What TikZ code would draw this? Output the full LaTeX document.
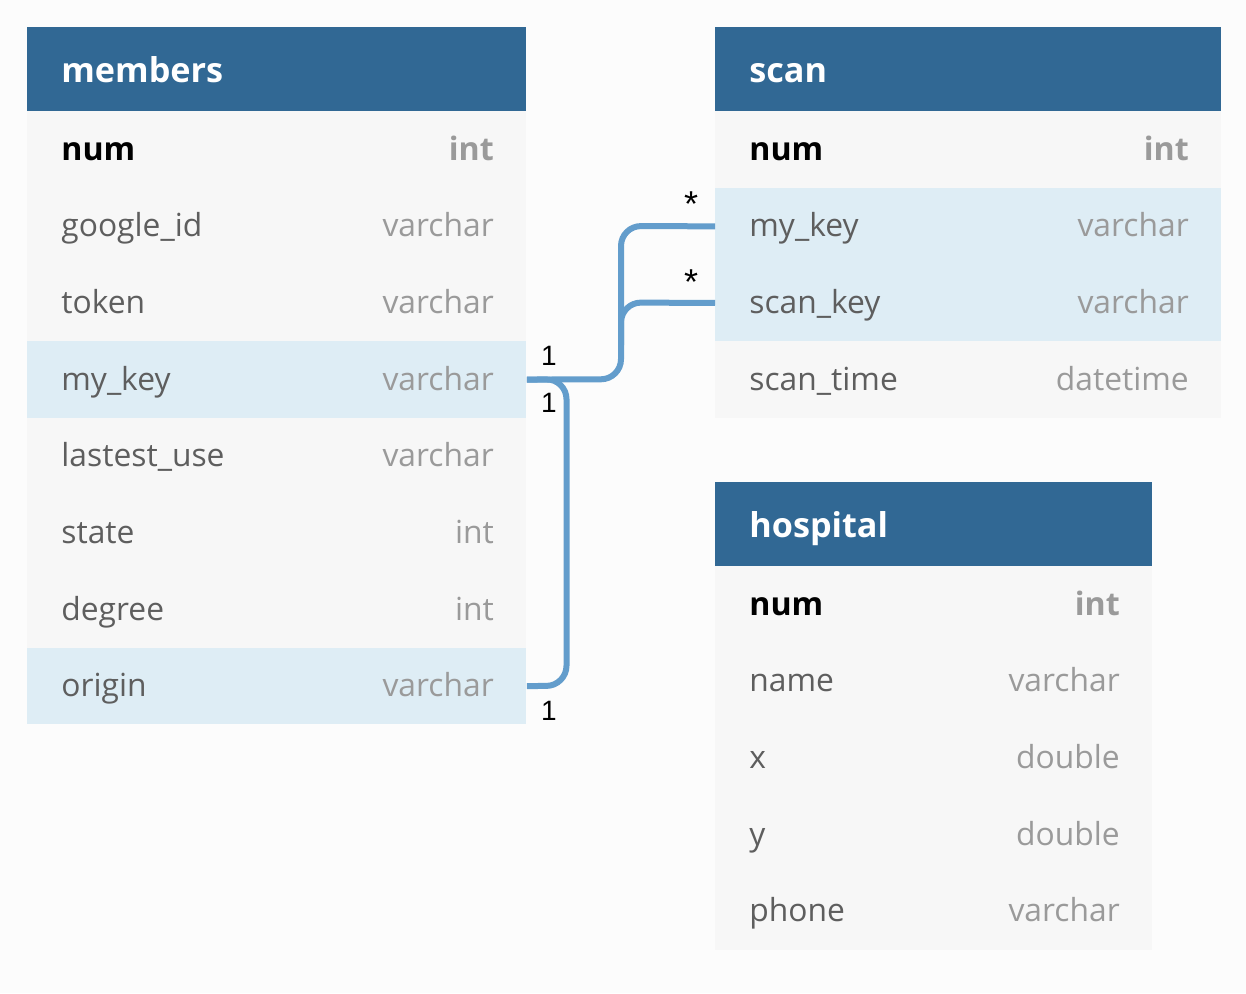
\documentclass[tikz,border=0pt]{standalone}
\usepackage{fontspec}
\setmainfont{Open Sans}
\newfontfamily\cardfont{Liberation Sans}
\definecolor{bgc}{HTML}{FCFCFC}
\definecolor{headc}{HTML}{316894}
\definecolor{rowc}{HTML}{F7F7F7}
\definecolor{hic}{HTML}{DEEDF5}
\definecolor{linkc}{HTML}{639DCC}
\definecolor{fieldc}{HTML}{5E5E5E}
\definecolor{typec}{HTML}{9A9A9A}
\newcommand{\erow}[8]{%
  \node[cell, fill=#5, minimum width=#4] (#1) at (#2,#3) {};
  \node[field#8] (#1-f) at ([xshift=17pt,yshift=-5.3pt]#1.west) {#6};
  \node[type#8] (#1-t) at ([xshift=-16.3pt,yshift=-5.3pt]#1.east) {#7};
}
\newcommand{\ehead}[4]{%
  \node[headbox, minimum width=#4] (#1) at (#2,#3) {};
  \node[headtxt] (#1-txt) at ([xshift=17pt,yshift=-6.3pt]#1.west) {#1};
}
\begin{document}
\begin{tikzpicture}[x=0.5pt,y=-0.5pt,
  cell/.style={rectangle, anchor=north west, inner sep=0pt, minimum height=38.31pt, draw=none},
  headbox/.style={rectangle, anchor=north west, inner sep=0pt, minimum height=42pt, fill=headc, draw=none},
  headtxt/.style={anchor=base west, inner sep=0pt, text=white, font=\fontsize{17.1}{20}\selectfont\bfseries},
  fieldkey/.style={anchor=base west, inner sep=0pt, text=black, font=\fontsize{16.1}{19}\selectfont\bfseries},
  typekey/.style={anchor=base east, inner sep=0pt, text=typec, font=\fontsize{16.1}{19}\selectfont\bfseries},
  fieldplain/.style={anchor=base west, inner sep=0pt, text=fieldc, font=\fontsize{15.9}{19}\selectfont},
  typeplain/.style={anchor=base east, inner sep=0pt, text=typec, font=\fontsize{15.9}{19}\selectfont},
  link/.style={draw=linkc, line width=3pt, rounded corners=10pt},
  card/.style={inner sep=0pt, text=black, font=\fontsize{14}{16}\selectfont\cardfont},
  star/.style={inner sep=0pt, text=black, font=\fontsize{18}{20}\selectfont\cardfont}
]
\useasboundingbox[fill=bgc] (0,0) rectangle (1246,993);
% members
\ehead{members}{27}{27}{249.5pt}
\erow{m-num}{27}{111}{249.5pt}{rowc}{num}{int}{key}
\erow{m-google}{27}{187.625}{249.5pt}{rowc}{google\_id}{varchar}{plain}
\erow{m-token}{27}{264.25}{249.5pt}{rowc}{token}{varchar}{plain}
\erow{m-mykey}{27}{340.875}{249.5pt}{hic}{my\_key}{varchar}{plain}
\erow{m-lastest}{27}{417.5}{249.5pt}{rowc}{lastest\_use}{varchar}{plain}
\erow{m-state}{27}{494.125}{249.5pt}{rowc}{state}{int}{plain}
\erow{m-degree}{27}{570.75}{249.5pt}{rowc}{degree}{int}{plain}
\erow{m-origin}{27}{647.375}{249.5pt}{hic}{origin}{varchar}{plain}
% scan
\ehead{scan}{715}{27}{253pt}
\erow{s-num}{715}{111}{253pt}{rowc}{num}{int}{key}
\erow{s-mykey}{715}{187.625}{253pt}{hic}{my\_key}{varchar}{plain}
\erow{s-scankey}{715}{264.25}{253pt}{hic}{scan\_key}{varchar}{plain}
\erow{s-time}{715}{340.875}{253pt}{rowc}{scan\_time}{datetime}{plain}
% hospital
\ehead{hospital}{715}{482}{218.5pt}
\erow{h-num}{715}{566}{218.5pt}{rowc}{num}{int}{key}
\erow{h-name}{715}{642.625}{218.5pt}{rowc}{name}{varchar}{plain}
\erow{h-x}{715}{719.25}{218.5pt}{rowc}{x}{double}{plain}
\erow{h-y}{715}{795.875}{218.5pt}{rowc}{y}{double}{plain}
\erow{h-phone}{715}{872.5}{218.5pt}{rowc}{phone}{varchar}{plain}
% connectors
\coordinate (j1) at (621,379.2);
\coordinate (j2) at (621,226);
\coordinate (j3) at (621,345);
\coordinate (j4) at (621,302.5);
\coordinate (k1) at (566.5,379.2);
\coordinate (k2) at (566.5,685.7);
\draw[link] (m-mykey.east) -- (j1) -- (j2) -- (s-mykey.west);
\draw[link] (j3) -- (j4) -- (s-scankey.west);
\draw[link] (m-mykey.east) -- (k1) -- (k2) -- (m-origin.east);
% cardinality labels
\node[card] (c1) at (549,356) {1};
\node[card] (c2) at (549,403) {1};
\node[card] (c3) at (549,711) {1};
\node[star] (c4) at (691,204) {*};
\node[star] (c5) at (691,282) {*};
\end{tikzpicture}
\end{document}
